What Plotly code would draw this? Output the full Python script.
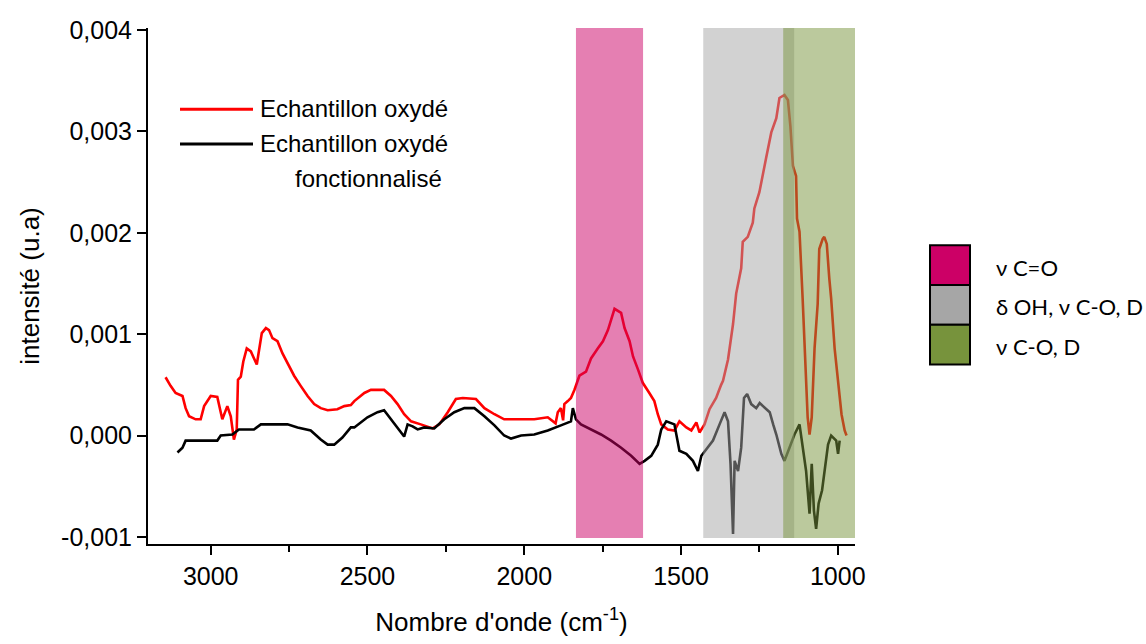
import plotly.graph_objects as go

# ---------------- data ----------------
wn_oxyde = [3144, 3128, 3112, 3090, 3080, 3069, 3048, 3032, 3021, 3000, 2979, 2968, 2963, 2947, 2936,
            2926, 2917, 2913, 2904, 2896, 2885, 2872, 2862, 2853, 2849, 2837, 2824, 2814, 2803, 2787,
            2771, 2755, 2734, 2713, 2691, 2670, 2649, 2627, 2596, 2574, 2553, 2542, 2510, 2489, 2447,
            2425, 2404, 2383, 2361, 2330, 2292, 2271, 2244, 2218, 2196, 2154, 2127, 2095, 2064, 2021,
            1968, 1925, 1900, 1893, 1883, 1876, 1872, 1861, 1851, 1840, 1824, 1803, 1787, 1765, 1749,
            1733, 1717, 1712, 1691, 1680, 1664, 1653, 1637, 1622, 1601, 1585, 1574, 1563, 1542, 1521,
            1505, 1483, 1467, 1451, 1441, 1425, 1409, 1388, 1372, 1366, 1350, 1334, 1324, 1308, 1303,
            1287, 1271, 1266, 1250, 1239, 1229, 1212, 1196, 1186, 1170, 1159, 1151, 1143, 1133, 1130,
            1122, 1112, 1106, 1096, 1090, 1083, 1074, 1064, 1059, 1048, 1043, 1035, 1027, 1021, 1010,
            994, 988, 978, 972]
int_oxyde = [0.000575, 0.00049, 0.00042, 0.00039, 0.00027, 0.00019, 0.00016, 0.00016, 0.00029, 0.00039,
             0.00038, 0.00023, 0.00016, 0.00029, 0.00019, -0.00004, 0.00006, 0.00055, 0.00058, 0.00073,
             0.00086, 0.00083, 0.00076, 0.00070, 0.00078, 0.00101, 0.00106, 0.00104, 0.00096, 0.00093,
             0.00081, 0.00072, 0.00059, 0.00049, 0.00039, 0.00031, 0.00027, 0.00025, 0.00026, 0.00029,
             0.00030, 0.00034, 0.00042, 0.00045, 0.00045, 0.00039, 0.00031, 0.00021, 0.00014, 0.00011,
             0.00007, 0.00011, 0.00023, 0.00036, 0.00037, 0.00036, 0.00027, 0.00021, 0.00016, 0.00016,
             0.00016, 0.00018, 0.00012, 0.00023, 0.00027, 0.00015, 0.00031, 0.00034, 0.00037, 0.00045,
             0.00059, 0.00063, 0.00076, 0.00086, 0.00093, 0.00104, 0.00119, 0.00125, 0.00121, 0.00106,
             0.00093, 0.00078, 0.00065, 0.00052, 0.00042, 0.00034, 0.00021, 0.00011, 0.00006, 0.00005,
             0.00014, 0.00008, 0.00005, 0.00013, 0.00003, 0.00011, 0.00026, 0.00037, 0.00050, 0.00054,
             0.00075, 0.00110, 0.00140, 0.00165, 0.00191, 0.00196, 0.00210, 0.00224, 0.00240, 0.00256,
             0.00273, 0.00299, 0.00313, 0.00333, 0.00336, 0.00331, 0.00305, 0.00266, 0.00256, 0.00214,
             0.00201, 0.00135, 0.00086, 0.00018, 0.00001, 0.00018, 0.00086, 0.00130, 0.00184, 0.00194,
             0.00196, 0.00189, 0.00155, 0.00135, 0.00086, 0.00037, 0.00021, 0.00005, 0.00000]

wn_fonct = [3106, 3090, 3080, 2979, 2968, 2931, 2910, 2862, 2840, 2755, 2723, 2681, 2649, 2627, 2606,
            2580, 2553, 2542, 2500, 2468, 2447, 2425, 2399, 2383, 2372, 2356, 2340, 2319, 2287, 2255,
            2223, 2191, 2159, 2127, 2095, 2064, 2042, 2010, 1968, 1925, 1883, 1851, 1845, 1835, 1819,
            1787, 1755, 1723, 1691, 1659, 1632, 1616, 1595, 1574, 1563, 1547, 1521, 1505, 1483, 1462,
            1446, 1435, 1414, 1398, 1377, 1361, 1350, 1342, 1334, 1329, 1318, 1308, 1299, 1289, 1276,
            1260, 1249, 1233, 1217, 1206, 1196, 1180, 1170, 1154, 1138, 1122, 1112, 1101, 1096, 1090,
            1083, 1076, 1069, 1061, 1050, 1041, 1031, 1021, 1005, 999, 994]
int_fonct = [-0.000167, -0.00012, -0.00005, -0.00005, 0.0, 0.00001, 0.00006, 0.00006, 0.00011, 0.00011,
             0.00008, 0.00005, -0.00004, -0.00009, -0.00009, -0.00002, 0.00008, 0.00008, 0.00018, 0.00023,
             0.00025, 0.00016, 0.00006, -0.00001, 0.00011, 0.00009, 0.00006, 0.00008, 0.00007, 0.00016,
             0.00023, 0.00027, 0.00027, 0.00019, 0.00010, 0.0, -0.00003, 0.0, 0.00001, 0.00005,
             0.00010, 0.00014, 0.00027, 0.00016, 0.00011, 0.00006, 0.00001, -0.00005, -0.00012, -0.00020,
             -0.00028, -0.00025, -0.00020, -0.00009, 0.00006, 0.00014, 0.00011, -0.00015, -0.00018, -0.00025,
             -0.00035, -0.00020, -0.00012, -0.00005, 0.00011, 0.00023, 0.00014, -0.00028, -0.00097, -0.00025,
             -0.00035, -0.00012, 0.00037, 0.00041, 0.00031, 0.00027, 0.00032, 0.00027, 0.00023, 0.00011,
             0.00001, -0.00018, -0.00025, -0.00012, 0.00001, 0.00011, -0.00012, -0.00035, -0.00054, -0.00077,
             -0.00028, -0.00074, -0.00092, -0.00067, -0.00054, -0.00035, -0.00009, 0.0, -0.00005, -0.00018,
             -0.00005]

series_names = ["Echantillon oxydé", "Echantillon oxydé fonctionnalisé"]

x_tickvals = [3000, 2500, 2000, 1500, 1000]
y_tickvals = [-0.001, 0.0, 0.001, 0.002, 0.003, 0.004]
y_ticktext = ["-0,001", "0,000", "0,001", "0,002", "0,003", "0,004"]

band_labels = ["ν C=O", "δ OH, ν C-O, D", "ν C-O, D"]
band_start = [1835, 1429, 1174]
band_end = [1621, 1139, 945]
band_colors = ["#CC0066", "#A6A6A6", "#77933C"]

# ---------------- layout helpers ----------------
W, H = 1146, 644
PL, PR, PT, PB = 148, 855, 28, 548


def pxx(x):
    return (x - PL) / (PR - PL)


def pxy(y):
    return (PB - y) / (PB - PT)


FONT = "Liberation Sans, Arial, sans-serif"
LFONT = "Lato, Carlito, Calibri, sans-serif"

fig = go.Figure()
fig.add_trace(go.Scatter(x=wn_oxyde, y=int_oxyde, mode="lines", name=series_names[0],
                         line=dict(color="#FF0000", width=2.6), showlegend=False))
fig.add_trace(go.Scatter(x=wn_fonct, y=int_fonct, mode="lines", name=series_names[1],
                         line=dict(color="#000000", width=2.6), showlegend=False))

shapes = []
for x0, x1, c in zip(band_start, band_end, band_colors):
    shapes.append(dict(type="rect", xref="x", yref="y", x0=x0, x1=x1, y0=-0.00101, y1=0.00402,
                       fillcolor=c, opacity=0.5, line=dict(width=0), layer="above"))

# in-plot legend (lines)
for yy, col in [(110, "#FF0000"), (145, "#000000")]:
    shapes.append(dict(type="line", xref="paper", yref="paper", x0=pxx(180), x1=pxx(253),
                       y0=pxy(yy), y1=pxy(yy), line=dict(color=col, width=3)))

LEG_SIZE = 24
annotations = [
    dict(text=series_names[0], x=pxx(258), y=pxy(109), xref="paper", yref="paper",
         xanchor="left", yanchor="middle", showarrow=False, font=dict(family=FONT, size=LEG_SIZE, color="#000")),
    dict(text="Echantillon oxydé", x=pxx(258), y=pxy(144), xref="paper", yref="paper",
         xanchor="left", yanchor="middle", showarrow=False, font=dict(family=FONT, size=LEG_SIZE, color="#000")),
    dict(text="fonctionnalisé", x=pxx(368), y=pxy(180), xref="paper", yref="paper",
         xanchor="center", yanchor="middle", showarrow=False, font=dict(family=FONT, size=LEG_SIZE, color="#000")),
]

# right legend (bands)
sq_top = [247, 287, 327]
for top, c, lab in zip(sq_top, band_colors, band_labels):
    shapes.append(dict(type="rect", xref="paper", yref="paper", x0=pxx(930), x1=pxx(970),
                       y0=pxy(top + 40), y1=pxy(top), fillcolor=c, line=dict(color="#000", width=2)))
    annotations.append(dict(text=lab, x=pxx(994), y=pxy(top + 22), xref="paper", yref="paper",
                            xanchor="left", yanchor="middle", showarrow=False,
                            font=dict(family=LFONT, size=22, color="#000")))

fig.update_layout(
    width=W, height=H,
    margin=dict(l=PL, r=W - PR, t=PT, b=H - PB, pad=0),
    paper_bgcolor="white", plot_bgcolor="white",
    shapes=shapes, annotations=annotations,
    font=dict(family=FONT, size=24, color="#000"),
    xaxis=dict(range=[3200, 945], tickvals=x_tickvals, ticks="outside", ticklen=9, tickwidth=2,
               tickcolor="#000", showline=True, linecolor="#000", linewidth=2, showgrid=False,
               zeroline=False, tickfont=dict(size=25),
               minor=dict(dtick=250, ticks="outside", ticklen=6, tickwidth=2, tickcolor="#000", showgrid=False),
               title=dict(text="Nombre d'onde (cm<sup>-1</sup>)", font=dict(size=26), standoff=24)),
    yaxis=dict(range=[-0.00107, 0.00402], tickvals=y_tickvals, ticktext=y_ticktext, ticks="outside",
               ticklen=9, tickwidth=2, tickcolor="#000", showline=True, linecolor="#000", linewidth=2,
               showgrid=False, zeroline=False, tickfont=dict(size=25),
               title=dict(text="intensité (u.a)", font=dict(size=26), standoff=14)),
)

fig.write_html("out.html", config={"displayModeBar": False},
               post_script="document.body.style.margin='0';document.body.style.overflow='hidden';")
